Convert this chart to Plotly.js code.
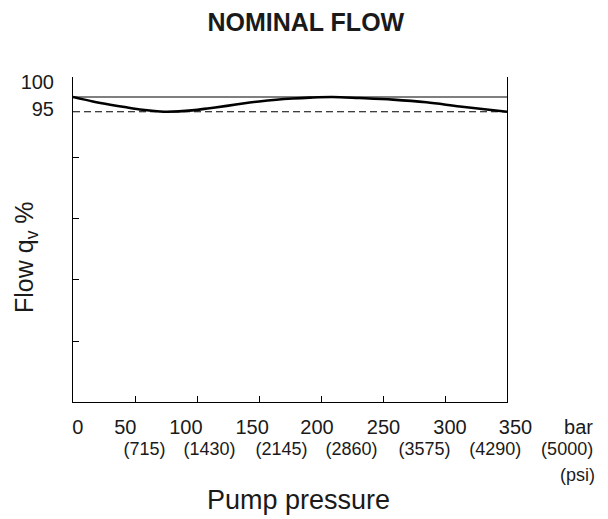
<!DOCTYPE html>
<html>
<head>
<meta charset="utf-8">
<script src="https://cdn.plot.ly/plotly-3.0.1.min.js"></script>
<style>html,body{margin:0;padding:0;background:#fff;}#chart{width:608px;height:519px;}</style>
</head>
<body>
<div id="chart"></div>
<script>
// ---- data ----
const pressureBar = [0, 16, 30, 43, 56, 70, 76, 96, 110, 124, 137, 150, 164, 177, 191, 209, 231, 258, 285, 312, 350];
const flowPct     = [100, 98.5, 97.4, 96.5, 95.7, 95.1, 95.0, 95.45, 96.2, 97.0, 97.8, 98.5, 99.1, 99.5, 99.8, 100, 99.65, 99.1, 98.2, 96.8, 95];
const nominalLevel = 100;
const minLevel = 95;
const pressureSpan = [0, 350];
const xTickVals = [50, 100, 150, 200, 250, 300];
const yTickVals = [17.1, 37.9, 58.7, 79.3];
const yLabelText = ['100', '95'];
const yLabelPos = [105.2, 95.8];
const barLabels = ['0', '50', '100', '150', '200', '250', '300', '350', 'bar'];
const barLabelPos = [3.9, 42.2, 91.0, 144.5, 196.8, 250.4, 304.0, 356.9, 407.7];
const psiLabels = ['(715)', '(1430)', '(2145)', '(2860)', '(3575)', '(4290)', '(5000)'];
const psiLabelPos = [57.7, 110.1, 168.1, 224.6, 283.5, 340.5, 398.5];
const psiUnit = ['(psi)'];
const psiUnitPos = [406.9];

// ---- layout geometry ----
const FONT = 'Liberation Sans, Arial, Helvetica, sans-serif';
const W = 608, H = 519, ML = 73, MT = 77;
const plotW = W - ML, plotH = H - MT;
const axisBottomPx = 402;
const yDom0 = (H - axisBottomPx) / plotH;
const xDomEnd = 434 / plotW;
const pxPerBar = 434 / 350;
const wideRange = [0, plotW / pxPerBar];

const traces = [
  {x: pressureSpan, y: [nominalLevel, nominalLevel], mode: 'lines', line: {color: '#000', width: 1.2}, hoverinfo: 'skip'},
  {x: pressureSpan, y: [minLevel, minLevel], mode: 'lines', line: {color: '#000', width: 1.2, dash: '7px,4px'}, hoverinfo: 'skip'},
  {x: pressureBar, y: flowPct, mode: 'lines', line: {color: '#000', width: 2.6, shape: 'spline', smoothing: 1}}
];

const labelAxis = (vals, text, size, len) => ({
  anchor: 'free', position: yDom0, domain: [0, 1], range: wideRange,
  showline: false, showgrid: false, zeroline: false,
  tickmode: 'array', tickvals: vals, ticktext: text,
  ticks: 'outside', ticklen: len, tickcolor: 'rgba(0,0,0,0)',
  tickfont: {family: FONT, size: size, color: '#1a1a1a'}, fixedrange: true
});

const layout = {
  width: W, height: H,
  margin: {l: ML, r: 0, t: MT, b: 0, pad: 0},
  paper_bgcolor: '#fff', plot_bgcolor: 'rgba(0,0,0,0)',
  showlegend: false,
  title: {text: '<b>NOMINAL FLOW</b>', font: {family: FONT, size: 25, color: '#1a1a1a'},
          x: 0.503, xanchor: 'center', y: 1 - 22.5 / H, yanchor: 'middle'},
  xaxis: {domain: [0, xDomEnd], range: pressureSpan, anchor: 'y',
          showline: true, linecolor: '#000', linewidth: 1,
          showgrid: false, zeroline: false, showticklabels: false,
          tickmode: 'array', tickvals: xTickVals, ticks: 'inside', ticklen: 6, tickcolor: '#000'},
  xaxis2: labelAxis(barLabelPos, barLabels, 20, 7),
  xaxis3: labelAxis(psiLabelPos, psiLabels, 18, 30),
  xaxis4: labelAxis(psiUnitPos, psiUnit, 18, 56),
  yaxis: {domain: [yDom0, 1], range: [-3.6, 106.8], anchor: 'x',
          showline: true, mirror: true, linecolor: '#000', linewidth: 1,
          showgrid: false, zeroline: false, showticklabels: false,
          tickmode: 'array', tickvals: yTickVals, ticks: 'inside', ticklen: 6, tickcolor: '#000'},
  yaxis2: {overlaying: 'y', side: 'left', anchor: 'x', range: [-3.6, 106.8],
           showline: false, showgrid: false, zeroline: false,
           tickmode: 'array', tickvals: yLabelPos, ticktext: yLabelText,
           ticks: 'outside', ticklen: 14, tickcolor: 'rgba(0,0,0,0)',
           tickfont: {family: FONT, size: 20, color: '#1a1a1a'}},
  annotations: [
    {text: 'Flow q<sub>v</sub> %', textangle: -90, xref: 'paper', yref: 'paper',
     x: (26 - ML) / plotW, y: (H - 257) / plotH, xanchor: 'center', yanchor: 'middle',
     showarrow: false, font: {family: FONT, size: 25, color: '#1a1a1a'}},
    {text: 'Pump pressure', xref: 'paper', yref: 'paper',
     x: (298.5 - ML) / plotW, y: (H - 500) / plotH, xanchor: 'center', yanchor: 'middle',
     showarrow: false, font: {family: FONT, size: 27, color: '#1a1a1a'}}
  ]
};

// invisible carrier traces so the label axes render
traces.push({x: [0], y: [0], xaxis: 'x2', yaxis: 'y', mode: 'markers', marker: {opacity: 0}, hoverinfo: 'skip'});
traces.push({x: [0], y: [0], xaxis: 'x3', yaxis: 'y', mode: 'markers', marker: {opacity: 0}, hoverinfo: 'skip'});
traces.push({x: [0], y: [0], xaxis: 'x4', yaxis: 'y', mode: 'markers', marker: {opacity: 0}, hoverinfo: 'skip'});
traces.push({x: [0], y: [0], xaxis: 'x', yaxis: 'y2', mode: 'markers', marker: {opacity: 0}, hoverinfo: 'skip'});

Plotly.newPlot('chart', traces, layout, {staticPlot: true, displayModeBar: false});
</script>
</body>
</html>
